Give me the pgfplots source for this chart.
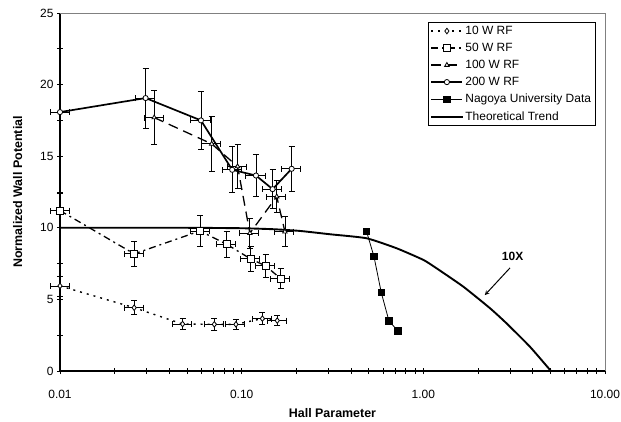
\documentclass[border=0pt]{standalone}
\usepackage{pgfplots}
\pgfplotsset{compat=1.18}
\usepackage{fontspec}
\setmainfont{Liberation Sans}
\begin{document}
\begin{tikzpicture}
\path[use as bounding box] (0,0) rectangle (621bp,422bp);
\begin{axis}[
  at={(60bp,51bp)}, anchor=south west,
  scale only axis, width=545bp, height=358bp,
  xmode=log, xmin=0.01, xmax=10, ymin=0, ymax=25,
  axis x line=bottom, axis y line=left,
  axis line style={-, line width=1.2pt, black},
  xtick={0.01,0.1,1,10}, xticklabels={0.01,0.10,1.00,10.00},
  ytick={0,5,10,15,20,25}, minor ytick={2.5,7.5,12.5,17.5,22.5},
  tick align=center, major tick length=6bp, minor tick length=6bp,
  every tick/.style={black, line width=0.8pt},
  /pgf/number format/assume math mode=true,
  tick label style={font=\fontsize{12}{14}\selectfont},
  xticklabel style={yshift=-13bp},
  xlabel={Hall Parameter}, ylabel={Normalized Wall Potential},
  label style={font=\fontsize{12.5}{14}\selectfont\bfseries},
  xlabel style={yshift=-3bp},
  ylabel style={yshift=11bp},
  clip=false,
  legend cell align=left,
  legend style={at={(0.982,0.975)}, anchor=north east, draw=black,
    font=\fontsize{12}{13}\selectfont, row sep=3.2pt, inner sep=2pt},
  legend image code/.code={\draw[mark repeat=2,mark phase=2] plot coordinates {(0cm,0cm) (0.55cm,0cm) (1.1cm,0cm)};},
  error bars/error bar style={solid, line width=0.8pt, black},
  error bars/error mark options={rotate=90, mark size=3bp, line width=0.8pt, black},
]
\draw[gray, line width=0.8pt] (rel axis cs:0,1) -- (rel axis cs:1,1) -- (rel axis cs:1,0);

% 10 W RF
\addplot[black, line width=1.4pt, dash pattern=on 2pt off 5pt,
  mark=diamond*, mark size=2.8bp, mark options={solid, fill=white, line width=0.8pt},
  error bars/.cd, x dir=both, x fixed relative=0.12, y dir=both, y explicit]
  table[x=x, y=y, y error=e] {
x y e
0.010 5.94 0.70
0.0256 4.42 0.50
0.0473 3.28 0.40
0.0707 3.26 0.40
0.093 3.26 0.35
0.130 3.66 0.40
0.157 3.52 0.35
};
\addlegendentry{10 W RF}

% 50 W RF
\addplot[black, line width=1.3pt, dash pattern=on 7pt off 4pt on 2pt off 4pt,
  mark=square*, mark size=3.4bp, mark options={solid, fill=white, line width=0.8pt},
  error bars/.cd, x dir=both, x fixed relative=0.12, y dir=both, y explicit]
  table[x=x, y=y, y error=e] {
x y e
0.010 11.2 1.2
0.0256 8.18 0.90
0.059 9.78 1.08
0.0827 8.85 0.90
0.112 7.83 0.90
0.1355 7.34 0.80
0.164 6.45 0.70
};
\addlegendentry{50 W RF}

% 100 W RF
\addplot[black, line width=1.3pt, dash pattern=on 10pt off 6pt,
  mark=triangle*, mark size=2.6bp, mark options={solid, fill=white, line width=0.8pt},
  error bars/.cd, x dir=both, x fixed relative=0.12, y dir=both, y explicit]
  table[x=x, y=y, y error=e] {
x y e
0.033 17.7 1.9
0.0684 15.86 1.95
0.095 14.28 1.55
0.111 9.62 1.05
0.156 12.18 1.10
0.173 9.73 1.05
};
\addlegendentry{100 W RF}

% 200 W RF
\addplot[black, line width=1.7pt, solid,
  mark=*, mark size=2.6bp, mark options={solid, fill=white, line width=0.8pt},
  error bars/.cd, x dir=both, x fixed relative=0.12, y dir=both, y explicit]
  table[x=x, y=y, y error=e] {
x y e
0.010 18.08 0.0
0.0296 19.06 2.1
0.0597 17.5 2.05
0.0887 14.05 1.6
0.1199 13.65 1.45
0.148 12.7 1.35
0.1885 14.12 1.55
};
\addlegendentry{200 W RF}

% Nagoya
\addplot[black, line width=0.8pt, solid, mark=square*, mark size=3.2bp, mark options={fill=black}]
  table {
0.487 9.74
0.535 7.99
0.587 5.47
0.647 3.49
0.725 2.80
};
\addlegendentry{Nagoya University Data}

% Theoretical
\addplot[black, line width=1.9pt, solid, no marks, smooth, tension=0.3]
  table {
0.01 10
0.05 10
0.10 9.97
0.15 9.90
0.21 9.78
0.306 9.55
0.487 9.27
0.713 8.57
1.00 7.76
1.18 7.18
1.66 5.89
2.33 4.38
2.87 3.33
3.86 1.70
5.04 0
};
\addlegendentry{Theoretical Trend}

\node[font=\fontsize{12}{14}\selectfont\bfseries] at (axis cs:3.1,8.0) {10X};
\draw[-stealth, line width=1pt] (axis cs:3.0,7.2) -- (axis cs:2.18,5.3);
\end{axis}
\end{tikzpicture}
\end{document}
